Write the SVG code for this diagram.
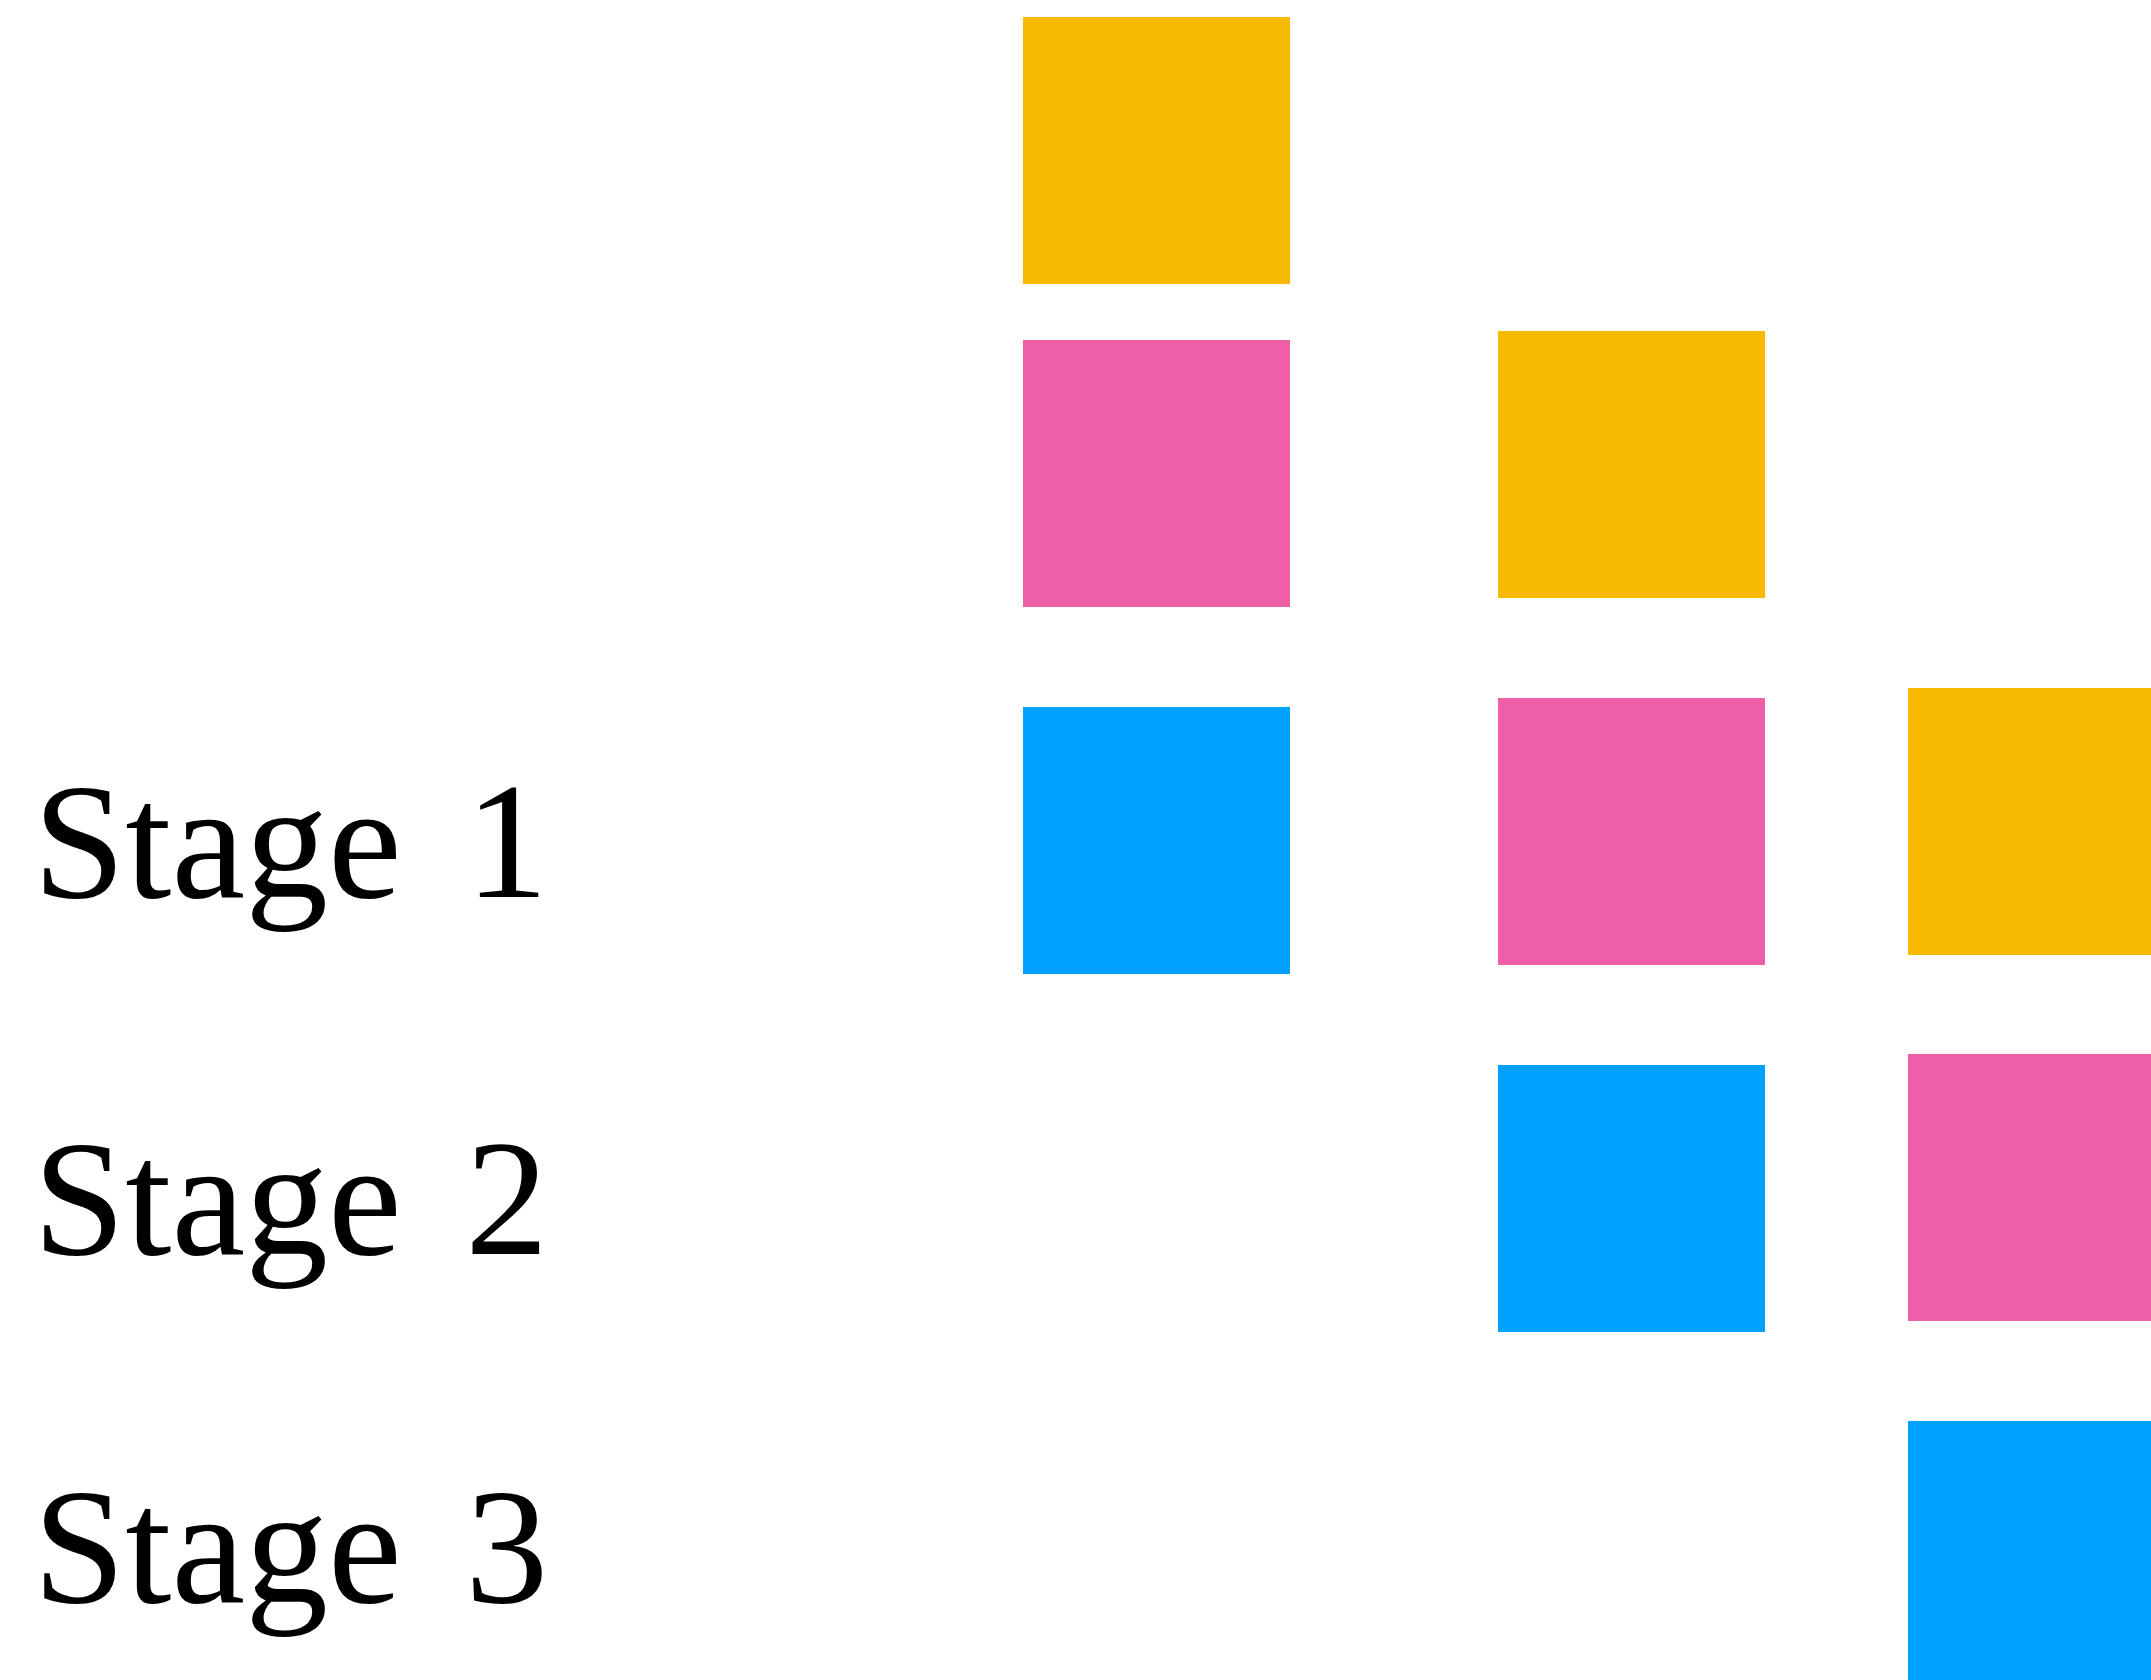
<svg xmlns="http://www.w3.org/2000/svg" width="2151" height="1680" viewBox="0 0 2151 1680">
<style>
.y{fill:#F7BA00}.p{fill:#EF5FA7}.b{fill:#00A2FF}
.lbl{font-family:"Liberation Serif","Times New Roman",serif;font-size:166px;fill:#000}
</style>
<rect width="2151" height="1680" fill="#fff"/>
<g id="labels">
<text class="lbl" x="33" y="897">Stage <tspan dx="22">1</tspan></text>
<text class="lbl" x="33" y="1254">Stage <tspan dx="22">2</tspan></text>
<text class="lbl" x="33" y="1602">Stage <tspan dx="22">3</tspan></text>
</g>
<g id="col1">
<rect id="c1-yellow" class="y" x="1023" y="17" width="267" height="267"/>
<rect id="c1-pink" class="p" x="1023" y="340" width="267" height="267"/>
<rect id="c1-blue" class="b" x="1023" y="707" width="267" height="267"/>
</g>
<g id="col2">
<rect id="c2-yellow" class="y" x="1498" y="331" width="267" height="267"/>
<rect id="c2-pink" class="p" x="1498" y="698" width="267" height="267"/>
<rect id="c2-blue" class="b" x="1498" y="1065" width="267" height="267"/>
</g>
<g id="col3">
<rect id="c3-yellow" class="y" x="1908" y="688" width="267" height="267"/>
<rect id="c3-pink" class="p" x="1908" y="1054" width="267" height="267"/>
<rect id="c3-blue" class="b" x="1908" y="1421" width="267" height="267"/>
</g>
<g id="connectors"/>
</svg>
